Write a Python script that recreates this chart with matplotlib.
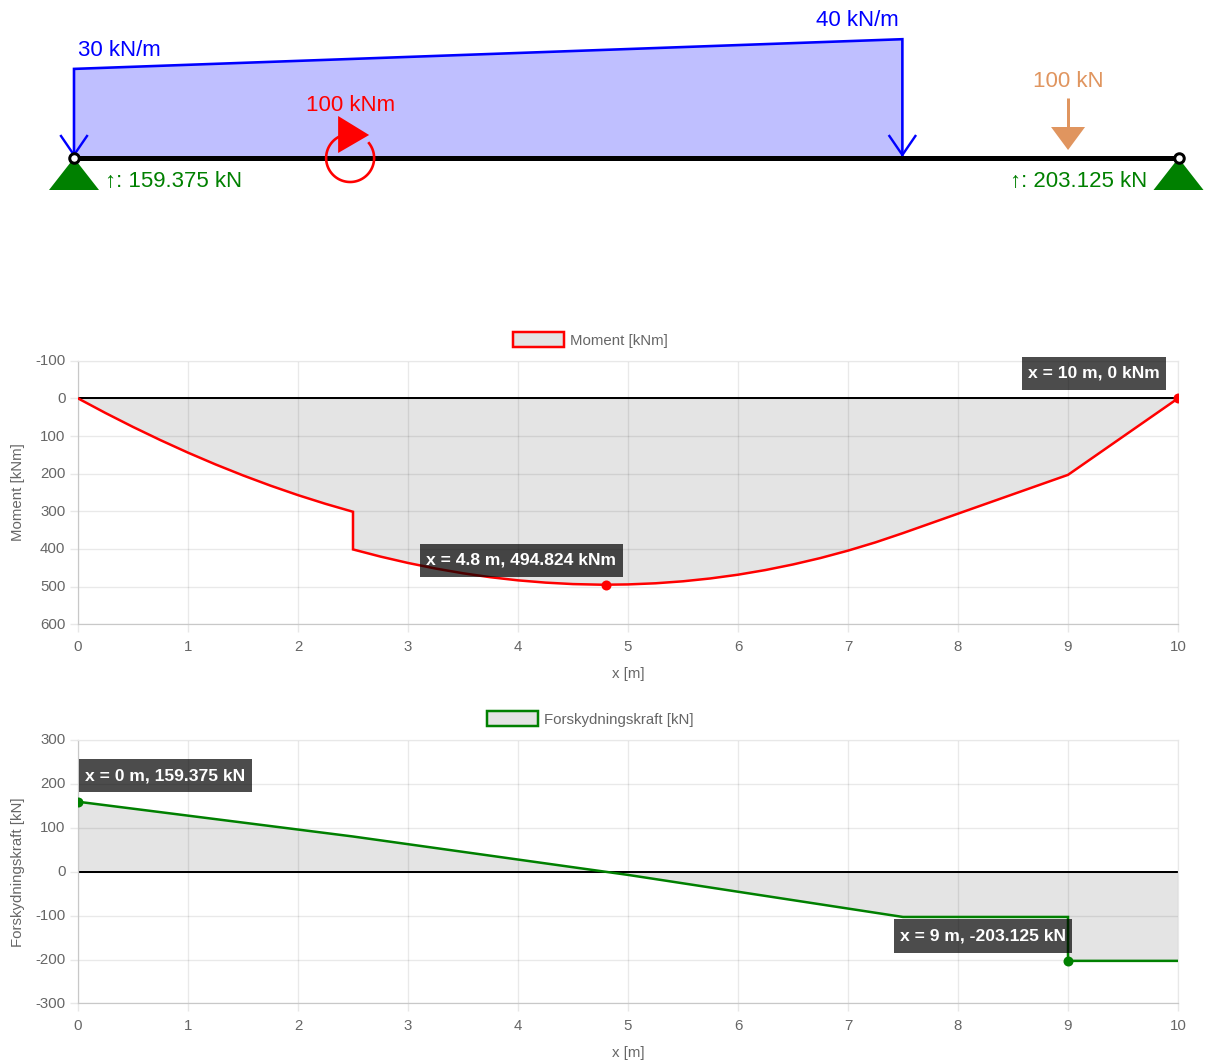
import numpy as np
import matplotlib
matplotlib.use("Agg")
import matplotlib.pyplot as plt
from matplotlib.patches import Polygon, Patch
from matplotlib.transforms import Affine2D

plt.rcParams['font.family'] = ['Liberation Sans', 'DejaVu Sans']
plt.rcParams['axes.unicode_minus'] = False

# ---- data ----
support_x = [0, 10]
reaction_kn = [159.375, 203.125]
load_x = [0, 7.5]
load_q = [30, 40]
moment_load_x = 2.5
moment_load_label = "100 kNm"
force_x = 9
force_label = "100 kN"

moment_x = [0, 0.25, 0.5, 0.75, 1, 1.25, 1.5, 1.75, 2, 2.25, 2.5, 2.5, 2.75, 3, 3.25, 3.5, 3.75, 4,
            4.25, 4.5, 4.75, 4.8, 5, 5.25, 5.5, 5.75, 6, 6.25, 6.5, 6.75, 7, 7.25, 7.5, 8, 9, 10]
moment_y = [0, 38.9, 75.9, 111.0, 144.2, 175.4, 204.6, 231.8, 257.0, 280.1, 301.2, 401.2, 420.2,
            437.1, 451.9, 464.5, 475.0, 483.3, 489.3, 493.2, 494.8, 494.824, 494.1, 491.1, 485.8,
            478.2, 468.3, 455.9, 441.1, 424.0, 404.4, 382.4, 357.8, 306.2, 203.125, 0]
moment_ticks = [-100, 0, 100, 200, 300, 400, 500, 600]

shear_x = [0, 2.5, 5, 7.5, 9, 9, 10]
shear_y = [159.375, 80.2, -7.3, -103.125, -103.125, -203.125, -203.125]
shear_ticks = [300, 200, 100, 0, -100, -200, -300]

x_ticks = list(range(0, 11))

moment_peak = (4.8, 494.824, "x = 4.8 m, 494.824 kNm")
moment_end = (10, 0, "x = 10 m, 0 kNm")
shear_start = (0, 159.375, "x = 0 m, 159.375 kN")
shear_peak = (9, -203.125, "x = 9 m, -203.125 kN")

# ---- layout helpers (pixels, origin top-left) ----
W, H = 1218, 1064
PX = 0.72
fig = plt.figure(figsize=(W / 100, H / 100), dpi=100, facecolor='white')


def axes_px(x0, x1, ytop, ybot):
    return fig.add_axes([x0 / W, 1 - ybot / H, (x1 - x0) / W, (ybot - ytop) / H])


# ---- beam schematic: x in metres, y in kN/m ----
BLUE, RED, GREEN, ORANGE = '#0000FF', '#FF0000', '#008000', '#E0955F'
ax = axes_px(74, 1178.5, 0, 210)
ax.set_xlim(0, 10)
k = 1 / 2.97
ax.set_ylim(-52 * k, 158 * k)
ax.axis('off')


def off(x, q=0):
    ox, oy = ax.transData.transform((x, q))
    return Affine2D().translate(ox, oy)


ax.fill_between(load_x, 0, load_q, color='#BFBFFF', lw=0, zorder=1, clip_on=False)
ax.plot([load_x[0], load_x[0], load_x[1], load_x[1]], [0, load_q[0], load_q[1], 0],
        color=BLUE, lw=2.6 * PX, zorder=2, solid_joinstyle='miter', clip_on=False)
ax.plot([0, 10], [0, 0], color='black', lw=5 * PX, zorder=3, solid_capstyle='butt', clip_on=False)

for lx in load_x:
    ax.plot([-13, 0, 13], [22, 3, 22], color=BLUE, lw=2.4 * PX, transform=off(lx), zorder=4, clip_on=False)

for lx, q, ha, dx in [(load_x[0], load_q[0], 'left', 4), (load_x[1], load_q[1], 'right', -4)]:
    ax.text(dx, 13, f"{q} kN/m", color=BLUE, fontsize=22.3 * PX, ha=ha, va='baseline', transform=off(lx, q))

# moment load
th = np.radians(np.linspace(38, -240, 120))
ax.plot(24 * np.cos(th), 24 * np.sin(th), color=RED, lw=2.6 * PX, transform=off(moment_load_x), zorder=5,
        clip_on=False)
ax.add_patch(Polygon([(-12, 42), (-12, 5), (19, 23)], closed=True, color=RED, lw=0,
                     transform=off(moment_load_x), zorder=6, clip_on=False))
ax.text(0, 47, moment_load_label, color=RED, fontsize=22.3 * PX, ha='center', va='baseline',
        transform=off(moment_load_x), zorder=7)

# point force
ax.plot([0, 0], [60, 30], color=ORANGE, lw=3 * PX, transform=off(force_x), solid_capstyle='butt', zorder=4,
        clip_on=False)
ax.add_patch(Polygon([(-17, 31), (17, 31), (0, 8)], closed=True, color=ORANGE, lw=0,
                     transform=off(force_x), zorder=5, clip_on=False))
ax.text(0, 71, force_label, color=ORANGE, fontsize=22.3 * PX, ha='center', va='baseline',
        transform=off(force_x))

# supports and reactions
for sx, r, ha, dx in zip(support_x, reaction_kn, ['left', 'right'], [31, -31]):
    ax.add_patch(Polygon([(-25, -32), (25, -32), (0, 0)], closed=True, color=GREEN, lw=0,
                         transform=off(sx), zorder=6, clip_on=False))
    ax.plot([0], [0], 'o', ms=9.5 * PX, mfc='white', mec='black', mew=3 * PX, transform=off(sx), zorder=7,
            clip_on=False)
    ax.text(dx, -29, f"↑: {r} kN", color=GREEN, fontsize=22.3 * PX, ha=ha, va='baseline', transform=off(sx))


# ---- charts ----
def chart(box, xs, ys, ticks, ylim, color, label, legend_y, points, boxes):
    a = axes_px(*box)
    a.set_xlim(0, 10)
    a.set_ylim(*ylim)
    a.set_xticks(x_ticks)
    a.set_yticks(ticks)
    a.grid(True, color='#000000', alpha=0.085, lw=1.4 * PX)
    a.set_axisbelow(True)
    a.tick_params(length=8 * PX, width=1.4 * PX, color='#E8E8E8', labelcolor='#666666',
                  labelsize=15 * PX, pad=4.5 * PX)
    a.tick_params(axis='x', pad=8 * PX)
    for lab in a.get_yticklabels():
        lab.set_transform(lab.get_transform() + Affine2D().translate(0, 1))
    for name, s in a.spines.items():
        s.set_color('#C8C8C8' if name in ('left', 'bottom') else '#E8E8E8')
        s.set_linewidth(1.2 * PX)
    a.fill_between(xs, 0, ys, color='#000000', alpha=0.105, lw=0, zorder=1.5)
    a.axhline(0, color='black', lw=2 * PX, zorder=2)
    a.plot(xs, ys, color=color, lw=2.5 * PX, zorder=3, solid_joinstyle='miter')
    for p in points:
        a.plot([p[0]], [p[1]], 'o', color=color, ms=10 * PX, mew=0, zorder=4)
    for p, (dx, dy) in zip(points, boxes):
        a.annotate(p[2], xy=p[:2], xytext=(dx, -dy), textcoords='offset pixels', color='white',
                   fontsize=17.5 * PX, fontweight='bold', ha='center', va='center', zorder=6,
                   bbox=dict(boxstyle='square,pad=0.35', mutation_aspect=1.5, fc='#000000', ec='none', alpha=0.7))
    a.set_xlabel('x [m]', color='#666666', fontsize=15 * PX, va='center')
    a.xaxis.set_label_coords(0.5, -49.7 / (box[3] - box[2]))
    a.set_ylabel(label, color='#666666', fontsize=15 * PX, va='center')
    a.yaxis.set_label_coords(-60 / 1100, 0.5)
    a.legend(handles=[Patch(fc='#E3E3E3', ec=color, lw=2.5 * PX, label=label)], frameon=False,
             loc='center', bbox_to_anchor=(0.466, (box[3] - legend_y) / (box[3] - box[2])),
             fontsize=15 * PX, labelcolor='#666666', handlelength=3.4, handleheight=1.1,
             handletextpad=0.4, borderpad=0, borderaxespad=0)
    return a


chart((78, 1178, 360.7, 624.3), moment_x, moment_y, moment_ticks, (600, -100), RED,
      'Moment [kNm]', 340, [moment_peak, moment_end], [(-84.5, -24.5), (-84, -25)])
chart((78, 1178, 740, 1003.4), shear_x, shear_y, shear_ticks, (-300, 300), GREEN,
      'Forskydningskraft [kN]', 719, [shear_start, shear_peak], [(87.5, -26), (-85, -25)])

fig.savefig('out.png', dpi=100, facecolor='white')
